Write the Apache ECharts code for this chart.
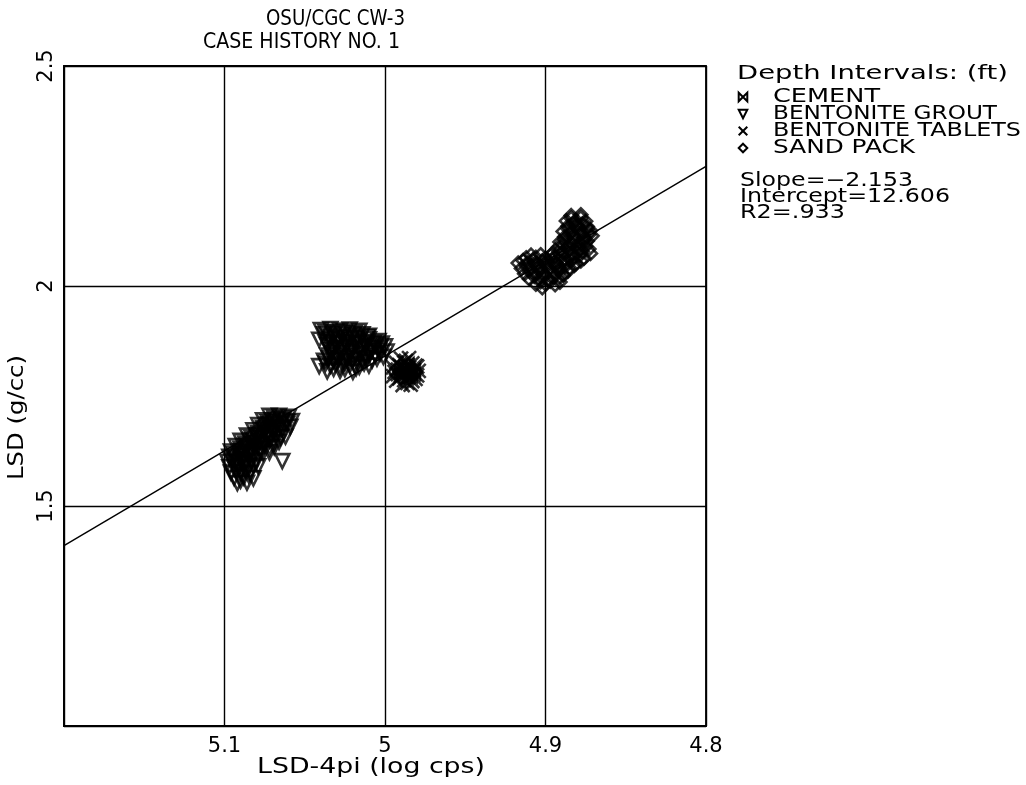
<!DOCTYPE html>
<html><head><meta charset="utf-8">
<script src="https://cdn.jsdelivr.net/npm/echarts@6/dist/echarts.min.js"></script>
<style>html,body{margin:0;padding:0;background:#fff}#c{width:1026px;height:785px}</style>
</head><body><div id="c"></div>
<script>
// ---- data ----
const titleLines = ['OSU/CGC CW-3', 'CASE HISTORY NO. 1'];
const xAxisName = 'LSD-4pi (log cps)';
const yAxisName = 'LSD (g/cc)';
const legendTitle = 'Depth Intervals: (ft)';
const seriesNames = ['CEMENT', 'BENTONITE GROUT', 'BENTONITE TABLETS', 'SAND PACK'];
const statLines = ['Slope=\u22122.153', 'Intercept=12.606', 'R2=.933'];
const xRange = [4.8, 5.2];
const yRange = [1.0, 2.5];

const cementPts = [
  [4.987,1.812],[4.984,1.796],[4.990,1.804],[4.986,1.822],[4.982,1.806],
  [5.089,1.618],[5.081,1.642]
];
const groutPts = [
  // low cluster
  [5.072,1.705],[5.066,1.705],[5.060,1.703],
  [5.076,1.695],[5.070,1.694],[5.064,1.696],[5.058,1.693],
  [5.079,1.684],[5.073,1.685],[5.067,1.683],[5.061,1.686],[5.059,1.680],
  [5.082,1.672],[5.076,1.673],[5.070,1.671],[5.064,1.674],
  [5.086,1.660],[5.080,1.661],[5.074,1.659],[5.068,1.662],[5.062,1.658],
  [5.090,1.648],[5.084,1.649],[5.078,1.647],[5.072,1.650],[5.066,1.646],
  [5.093,1.636],[5.087,1.637],[5.081,1.635],[5.075,1.638],[5.069,1.634],
  [5.096,1.624],[5.090,1.625],[5.084,1.623],[5.078,1.626],[5.072,1.622],
  [5.097,1.612],[5.091,1.613],[5.085,1.611],[5.079,1.614],
  [5.098,1.600],[5.092,1.601],[5.086,1.599],[5.080,1.602],[5.064,1.602],
  [5.097,1.588],[5.091,1.589],[5.085,1.587],[5.079,1.590],
  [5.096,1.576],[5.090,1.577],[5.084,1.575],
  [5.094,1.564],[5.088,1.565],[5.082,1.563],
  [5.092,1.552],[5.086,1.553],
  [5.069,1.700],[5.063,1.699],
  [5.073,1.690],[5.067,1.689],[5.061,1.691],
  [5.076,1.678],[5.070,1.679],[5.064,1.677],
  [5.079,1.666],[5.073,1.667],[5.067,1.665],
  [5.083,1.654],[5.077,1.655],[5.071,1.653],[5.065,1.656],
  [5.087,1.642],[5.081,1.643],[5.075,1.641],[5.069,1.644],
  [5.090,1.630],[5.084,1.631],[5.078,1.629],[5.072,1.632],
  [5.094,1.618],[5.088,1.619],[5.082,1.617],[5.076,1.620],
  [5.095,1.606],[5.089,1.607],[5.083,1.605],
  [5.094,1.594],[5.088,1.595],[5.082,1.593],
  [5.093,1.582],[5.087,1.583],
  [5.091,1.570],[5.085,1.571],
  [5.090,1.558],
  // middle cluster
  [5.040,1.900],[5.034,1.902],[5.028,1.899],[5.022,1.901],[5.016,1.898],
  [5.038,1.890],[5.032,1.889],[5.026,1.891],[5.020,1.888],[5.014,1.890],[5.010,1.887],
  [5.041,1.878],[5.034,1.879],[5.028,1.877],[5.022,1.880],[5.016,1.876],[5.010,1.879],[5.004,1.875],
  [5.036,1.866],[5.030,1.867],[5.024,1.865],[5.018,1.868],[5.012,1.864],[5.006,1.867],[5.000,1.863],
  [5.034,1.854],[5.028,1.855],[5.022,1.853],[5.016,1.856],[5.010,1.852],[5.004,1.855],[4.999,1.851],
  [5.036,1.842],[5.030,1.843],[5.024,1.841],[5.018,1.844],[5.012,1.840],[5.006,1.843],[5.001,1.839],
  [5.038,1.830],[5.032,1.831],[5.026,1.829],[5.020,1.832],[5.014,1.828],[5.008,1.831],
  [5.041,1.818],[5.034,1.819],[5.028,1.817],[5.022,1.820],[5.016,1.816],[5.010,1.819],
  [5.036,1.806],[5.028,1.807],[5.020,1.805],
  [5.037,1.895],[5.031,1.894],[5.025,1.896],[5.019,1.893],
  [5.035,1.884],[5.029,1.883],[5.023,1.885],[5.017,1.882],[5.011,1.884],
  [5.037,1.872],[5.031,1.871],[5.025,1.873],[5.019,1.870],[5.013,1.872],[5.007,1.871],[5.002,1.869],
  [5.033,1.860],[5.027,1.859],[5.021,1.861],[5.015,1.858],[5.009,1.860],[5.003,1.859],
  [5.033,1.848],[5.027,1.847],[5.021,1.849],[5.015,1.846],[5.009,1.848],[5.003,1.847],
  [5.035,1.836],[5.029,1.835],[5.023,1.837],[5.017,1.834],[5.011,1.836],[5.005,1.835],
  [5.037,1.824],[5.031,1.823],[5.025,1.825],[5.019,1.822],[5.013,1.824],
  [5.032,1.812],[5.025,1.811],[5.018,1.813]
];
const tabletPts = [
  [4.990,1.835],[4.985,1.836],
  [4.993,1.825],[4.988,1.826],[4.983,1.824],
  [4.995,1.815],[4.990,1.816],[4.985,1.814],[4.980,1.817],
  [4.994,1.805],[4.989,1.806],[4.984,1.804],[4.979,1.807],
  [4.995,1.795],[4.990,1.796],[4.985,1.794],[4.980,1.797],
  [4.993,1.785],[4.988,1.786],[4.983,1.784],
  [4.989,1.775],[4.984,1.776],
  [4.987,1.830],
  [4.991,1.820],[4.986,1.821],[4.981,1.819],
  [4.992,1.810],[4.987,1.811],[4.982,1.809],
  [4.992,1.800],[4.987,1.801],[4.982,1.799],
  [4.991,1.790],[4.986,1.791],[4.981,1.789],
  [4.986,1.780]
];
const sandPts = [
  [4.884,2.160],[4.878,2.162],
  [4.887,2.148],[4.881,2.149],[4.875,2.147],
  [4.886,2.136],[4.880,2.137],[4.874,2.135],
  [4.889,2.124],[4.883,2.125],[4.877,2.123],[4.872,2.126],
  [4.888,2.112],[4.882,2.113],[4.876,2.111],[4.871,2.114],
  [4.891,2.100],[4.885,2.101],[4.879,2.099],[4.874,2.102],
  [4.892,2.088],[4.886,2.089],[4.880,2.087],[4.875,2.090],
  [4.895,2.076],[4.889,2.077],[4.883,2.075],[4.877,2.078],[4.872,2.074],
  [4.912,2.064],[4.906,2.065],[4.900,2.063],[4.894,2.066],[4.888,2.062],[4.882,2.065],[4.876,2.063],
  [4.917,2.052],[4.911,2.053],[4.905,2.051],[4.899,2.054],[4.893,2.050],[4.887,2.053],[4.881,2.051],
  [4.915,2.040],[4.909,2.041],[4.903,2.039],[4.897,2.042],[4.891,2.038],[4.885,2.041],
  [4.913,2.028],[4.907,2.029],[4.901,2.027],[4.895,2.030],[4.889,2.026],
  [4.910,2.016],[4.904,2.017],[4.898,2.015],[4.892,2.018],
  [4.906,2.004],[4.900,2.005],[4.894,2.003],
  [4.902,1.996],
  [4.884,2.154],[4.878,2.155],
  [4.883,2.142],[4.877,2.141],
  [4.886,2.130],[4.880,2.131],[4.874,2.129],
  [4.885,2.118],[4.879,2.119],[4.873,2.117],
  [4.888,2.106],[4.882,2.107],[4.876,2.105],
  [4.889,2.094],[4.883,2.095],[4.877,2.093],
  [4.891,2.082],[4.885,2.083],[4.879,2.081],[4.873,2.084],
  [4.909,2.070],[4.903,2.071],[4.897,2.069],[4.891,2.072],[4.885,2.070],[4.879,2.069],
  [4.914,2.058],[4.908,2.059],[4.902,2.057],[4.896,2.060],[4.890,2.056],[4.884,2.059],[4.878,2.057],
  [4.912,2.046],[4.906,2.047],[4.900,2.045],[4.894,2.048],[4.888,2.044],[4.882,2.047],
  [4.910,2.034],[4.904,2.035],[4.898,2.033],[4.892,2.036],[4.886,2.034],
  [4.907,2.022],[4.901,2.023],[4.895,2.021],[4.889,2.024],
  [4.903,2.010],[4.897,2.011],[4.891,2.009],
  [5.088,1.641],[5.082,1.664],[5.076,1.688],[5.094,1.620],[5.070,1.700],[5.092,1.596]
];
const fitLine = [[5.2,1.410],[4.8,2.272]];

// ---- styles ----
const FONT = 'DejaVu Sans';
const SYM = {
  cement: 'path://M0,0L10,10L10,0L0,10Z',
  grout: 'path://M0,0L10,0L5,9Z',
  tablet: 'path://M0,0L10,10M10,0L0,10',
  sand: 'path://M5,0L10,5L5,10L0,5Z'
};
const ctx = document.createElement('canvas').getContext('2d');
function stretchText(text, size, left, right, cy) {
  ctx.font = size + 'px "' + FONT + '"';
  const w = ctx.measureText(text).width;
  return {
    type: 'text', x: left, y: cy, scaleX: (right - left) / w,
    style: { text: text, fontSize: size, fontFamily: FONT, fill: '#000', align: 'left', verticalAlign: 'middle' },
    silent: true
  };
}
function stretchTextV(text, size, cx, top, bottom) {
  ctx.font = size + 'px "' + FONT + '"';
  const w = ctx.measureText(text).width;
  return {
    type: 'text', x: cx, y: (top + bottom) / 2, rotation: Math.PI / 2, scaleX: (bottom - top) / w,
    style: { text: text, fontSize: size, fontFamily: FONT, fill: '#000', align: 'center', verticalAlign: 'middle' },
    silent: true
  };
}
function legendSym(kind, cx, cy) {
  const s = 4.3;
  const st = { fill: 'none', stroke: '#000', lineWidth: 2 };
  if (kind === 'cement') return { type: 'polygon', shape: { points: [[cx-s,cy-s],[cx+s,cy+s],[cx+s,cy-s],[cx-s,cy+s]] }, style: st, silent: true };
  if (kind === 'grout') return { type: 'polygon', shape: { points: [[cx-s,cy-s],[cx+s,cy-s],[cx,cy+s]] }, style: st, silent: true };
  if (kind === 'tablet') return { type: 'group', silent: true, children: [
    { type: 'line', shape: { x1: cx-s, y1: cy-s, x2: cx+s, y2: cy+s }, style: st },
    { type: 'line', shape: { x1: cx+s, y1: cy-s, x2: cx-s, y2: cy+s }, style: st }] };
  return { type: 'polygon', shape: { points: [[cx,cy-s],[cx+s,cy],[cx,cy+s],[cx-s,cy]] }, style: st, silent: true };
}
const kinds = ['cement', 'grout', 'tablet', 'sand'];
const legendRows = [97, 114, 131, 148];
const legendRight = [880, 997, 1021, 915];
const graphics = [
  stretchText(titleLines[0], 22, 266, 405, 19),
  stretchText(titleLines[1], 22, 203, 400, 42),
  stretchText(xAxisName, 21, 257, 485, 768),
  stretchTextV(yAxisName, 21, 18, 355, 480),
  stretchText(legendTitle, 19, 737, 1008, 74)
];
seriesNames.forEach(function (n, i) {
  graphics.push(legendSym(kinds[i], 743, legendRows[i]));
  graphics.push(stretchText(n, 19, 773, legendRight[i], legendRows[i]));
});
const statRows = [181, 197, 213];
const statRight = [913, 950, 845];
statLines.forEach(function (t, i) { graphics.push(stretchText(t, 19, 740, statRight[i], statRows[i])); });

function scatterSeries(name, data, sym, size) {
  return {
    name: name, type: 'scatter', data: data, symbol: sym, symbolSize: size,
    itemStyle: { color: 'rgba(0,0,0,0)', borderColor: '#000', borderWidth: 2.6 },
    emphasis: { disabled: true }, silent: true, z: 3
  };
}

const chart = echarts.init(document.getElementById('c'), null, { renderer: 'canvas' });
chart.setOption({
  animation: false,
  backgroundColor: '#fff',
  grid: { left: 64, right: 320, top: 66, bottom: 59, show: true, borderColor: '#000', borderWidth: 1.8 },
  xAxis: {
    type: 'value', min: xRange[0], max: xRange[1], interval: 0.1, inverse: true,
    axisLine: { show: true, lineStyle: { color: '#000', width: 1.8 } },
    axisTick: { show: false },
    splitLine: { show: true, lineStyle: { color: '#000', width: 1.4 } },
    axisLabel: { color: '#000', fontFamily: FONT, fontSize: 21, margin: 10,
      formatter: function (v) { return v > 5.15 ? '' : String(+v.toFixed(1)); } }
  },
  yAxis: {
    type: 'value', min: yRange[0], max: yRange[1], interval: 0.5,
    axisLine: { show: true, lineStyle: { color: '#000', width: 1.8 } },
    axisTick: { show: false },
    splitLine: { show: true, lineStyle: { color: '#000', width: 1.4 } },
    axisLabel: { color: '#000', fontFamily: FONT, fontSize: 21, margin: 7, rotate: 90,
      formatter: function (v) { return v < 1.25 ? '' : String(+v.toFixed(1)); } }
  },
  series: [
    { name: 'fit', type: 'line', data: fitLine, symbol: 'none', silent: true,
      lineStyle: { color: '#000', width: 1.4 }, z: 2 },
    scatterSeries(seriesNames[0], cementPts, SYM.cement, 12),
    scatterSeries(seriesNames[1], groutPts, SYM.grout, 14),
    scatterSeries(seriesNames[2], tabletPts, SYM.tablet, 14),
    scatterSeries(seriesNames[3], sandPts, SYM.sand, 13)
  ],
  graphic: graphics
});
</script>
</body></html>
